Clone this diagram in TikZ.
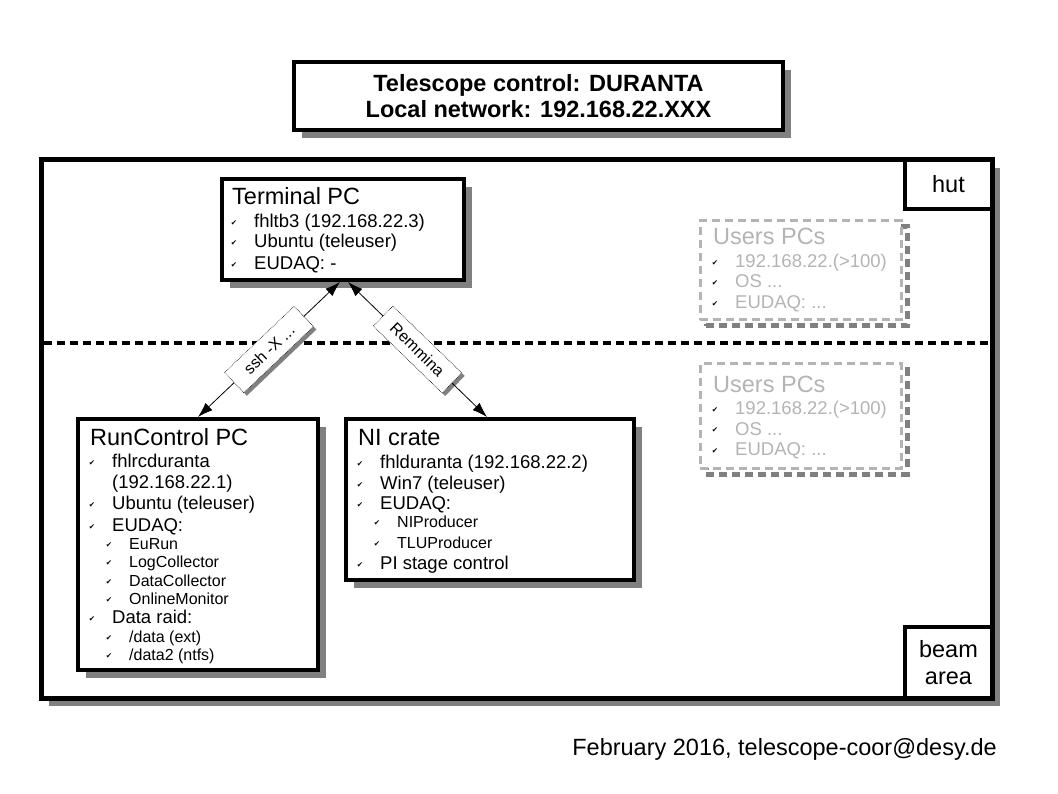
\documentclass[tikz,border=0pt]{standalone}
\usepackage{fontspec}
\setmainfont{Liberation Sans}
\newfontfamily\ckf{DejaVu Sans}
\usetikzlibrary{arrows.meta,shadows,calc}
\definecolor{shd}{HTML}{808080}
\definecolor{usr}{HTML}{B4B4B4}
\newcommand\fsz[1]{\fontsize{#1}{#1}\selectfont}
\newcommand\ckm{\raisebox{2pt}{\ckf\fontsize{7.5}{7.5}\selectfont ✔}}
\newcommand\itm[5]{\node[txt,font=\fsz{#5}] (#1) at (#2,#3) {\llap{\color{black}\ckm\hspace{17pt}}#4};}
\tikzset{
  txt/.style={anchor=base west, inner sep=0pt},
  bigbox/.style={draw, line width=4pt, fill=white, inner sep=0pt,
    drop shadow={shadow xshift=8pt, shadow yshift=-8pt, fill=shd, opacity=1}},
  cornerbox/.style={draw, line width=4.5pt, fill=white, inner sep=0pt, align=center, font=\fsz{23.5}},
  ubox/.style={draw=usr, line width=3pt, dash pattern=on 8pt off 5pt, fill=white, inner sep=0pt,
    general shadow={shadow xshift=6pt, shadow yshift=-6pt, draw=shd, line width=5pt, dash pattern=on 8pt off 5pt}},
  lblshape/.style={minimum width=96pt, minimum height=28pt, inner sep=0pt},
  lbl/.style={lblshape, draw, densely dotted, line width=0.6pt, fill=white, font=\fsz{16}, sloped},
  lblshadow/.style={lblshape, fill=shd},
  arr/.style={line width=0.8pt, {Latex[length=15pt,width=10pt]}-{Latex[length=15pt,width=10pt]}}
}
\begin{document}
\begin{tikzpicture}[x=1pt,y=-1pt]
\useasboundingbox (0,0) rectangle (1058,794);
% main area
\node[bigbox, line width=5pt, minimum width=951pt, minimum height=538pt] (main) at (516.5,429) {};
\node[cornerbox, minimum width=87pt, minimum height=49pt] (hut) at (948.5,184.5) {hut};
\node[cornerbox, minimum width=87pt, minimum height=71pt] (beam) at (948.5,662.5) {beam\\[3.5pt]area};
\draw[line width=4pt, dash pattern=on 8pt off 5pt] (43.5,343.5) -- (989.5,343.5);
% title
\node[bigbox, minimum width=489pt, minimum height=68pt, align=center, font=\bfseries\fsz{23.5}] (title) at (538.5,96)
  {Telescope control: DURANTA\\[3pt]Local network: 192.168.22.XXX};
% boxes
\node[bigbox, minimum width=242pt, minimum height=101pt] (term) at (343,229.5) {};
\node[bigbox, minimum width=240pt, minimum height=251pt] (rc) at (198,544.5) {};
\node[bigbox, minimum width=288pt, minimum height=161pt] (ni) at (490,499.5) {};
\node[ubox, minimum width=201pt, minimum height=99pt] (u1) at (800.5,270.5) {};
\node[ubox, minimum width=201pt, minimum height=104pt] (u2) at (800.5,416) {};
% terminal text
\node[txt, font=\fsz{23.5}] (termT) at (232,205) {Terminal PC};
\itm{t1}{254}{228}{fhltb3 (192.168.22.3)}{18.5}
\itm{t2}{254}{248}{Ubuntu (teleuser)}{18.5}
\itm{t3}{254}{270}{EUDAQ: -}{18.5}
% runcontrol text
\node[txt, font=\fsz{23.5}] (rcT) at (90,445) {RunControl PC};
\itm{r1}{112}{467}{fhlrcduranta}{18.5}
\node[txt, font=\fsz{18.5}] (r1b) at (112,488) {(192.168.22.1)};
\itm{r2}{112}{509}{Ubuntu (teleuser)}{18.5}
\itm{r3}{112}{531}{EUDAQ:}{18.5}
\itm{r4}{129}{549}{EuRun}{16}
\itm{r5}{129}{567}{LogCollector}{16}
\itm{r6}{129}{586}{DataCollector}{16}
\itm{r7}{129}{604}{OnlineMonitor}{16}
\itm{r8}{112}{623}{Data raid:}{18.5}
\itm{r9}{129}{642}{/data (ext)}{16}
\itm{r10}{129}{660}{/data2 (ntfs)}{16}
% NI text
\node[txt, font=\fsz{23.5}] (niT) at (358,445) {NI crate};
\itm{n1}{380}{468}{fhlduranta (192.168.22.2)}{18.5}
\itm{n2}{380}{489}{Win7 (teleuser)}{18.5}
\itm{n3}{380}{509}{EUDAQ:}{18.5}
\itm{n4}{397}{527}{NIProducer}{16}
\itm{n5}{397}{548}{TLUProducer}{16}
\itm{n6}{380}{569}{PI stage control}{18.5}
% users text
\begin{scope}[every node/.append style={text=usr}]
\node[txt, font=\fsz{23.5}] (u1T) at (713,245) {Users PCs};
\itm{ua1}{735}{268}{192.168.22.(>100)}{18.5}
\itm{ua2}{735}{288}{OS ...}{18.5}
\itm{ua3}{735}{309}{EUDAQ: ...}{18.5}
\node[txt, font=\fsz{23.5}] (u2T) at (713,392) {Users PCs};
\itm{ub1}{735}{414}{192.168.22.(>100)}{18.5}
\itm{ub2}{735}{435}{OS ...}{18.5}
\itm{ub3}{735}{455}{EUDAQ: ...}{18.5}
\end{scope}
% connections
\coordinate (a1) at ([xshift=-3pt]term.south);
\coordinate (b1) at (rc.north);
\coordinate (a2) at ([xshift=5pt]term.south);
\coordinate (b2) at ([xshift=-3pt]ni.north);
\path let \p1=($(a1)-(b1)$), \n1={atan2(\y1,\x1)} in
  node[lblshadow, rotate=\n1] (s1) at ($($(a1)!.5!(b1)$)+(3,3)$) {};
\path let \p1=($(b2)-(a2)$), \n1={atan2(\y1,\x1)} in
  node[lblshadow, rotate=\n1] (s2) at ($($(a2)!.5!(b2)$)+(3,3)$) {};
\draw[arr] (a1) -- (b1) node[lbl, pos=.5] (l1) {ssh -X ...};
\draw[arr] (a2) -- (b2) node[lbl, pos=.5] (l2) {Remmina};
% footer
\node[anchor=base east, inner sep=0pt, font=\fsz{23.5}] (foot) at (997,755) {February 2016, telescope-coor@desy.de};
\end{tikzpicture}
\end{document}
